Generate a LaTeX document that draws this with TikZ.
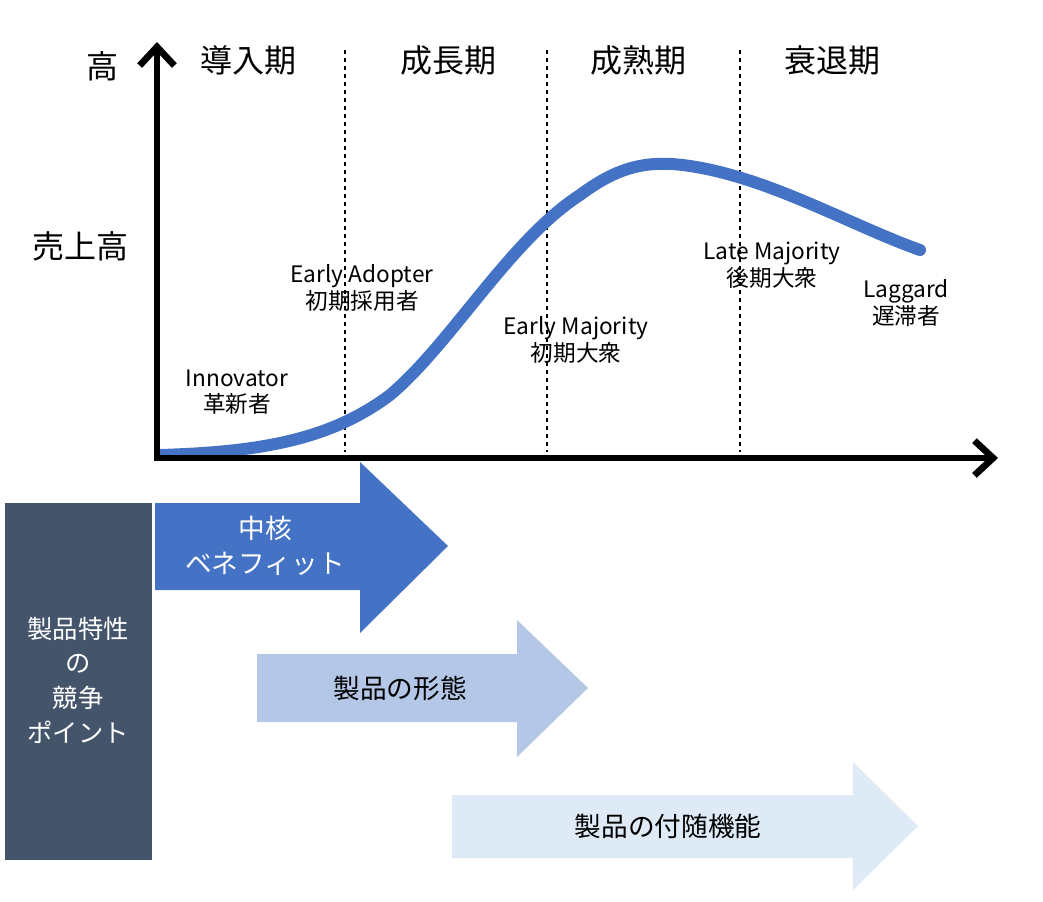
\documentclass[tikz,border=0pt]{standalone}
\usepackage{fontspec}
\setmainfont{Noto Sans CJK JP}
\usetikzlibrary{arrows.meta}
\definecolor{curveblue}{HTML}{4472C4}
\definecolor{midblue}{HTML}{B4C7E7}
\definecolor{paleblue}{HTML}{DEEBF7}
\definecolor{slate}{HTML}{44546A}
\tikzset{
  axis/.style={line width=5pt,-{Straight Barb[length=14pt,width=26pt,line width=5pt]}},
  phase/.style={font=\fontsize{24}{28}\selectfont},
  adopter/.style={font=\fontsize{17}{20}\selectfont,align=center},
  arrtext/.style={font=\fontsize{20}{26}\selectfont,align=center},
}
\begin{document}
\begin{tikzpicture}[x=0.75pt,y=-0.75pt]
\useasboundingbox (0,0) rectangle (1043,901);
% phase separators
\foreach \xx in {345,547,740}
  \draw[dashed,line width=1pt] (\xx,50) -- (\xx,452);
% sales curve
\draw[curveblue,line width=9pt,line cap=round]
  (160,455) .. controls (260,452) and (330,440) .. (390,395)
  .. controls (450,345) and (510,240) .. (580,195)
  .. controls (620,165) and (650,160) .. (690,166)
  .. controls (770,178) and (850,225) .. (920,250);
% axes
\coordinate (O) at (157,458);
\draw[axis] (O) -- (157,42);
\draw[axis] (154,458) -- (998,458);
\node[phase] (high) at (102,66) {高};
\node[phase] (sales) at (80,246) {売上高};
\node[phase] (p1) at (248,60) {導入期};
\node[phase] (p2) at (448,60) {成長期};
\node[phase] (p3) at (638,60) {成熟期};
\node[phase] (p4) at (832,60) {衰退期};
\node[adopter] (inno) at (237,392) {Innovator\\革新者};
\node[adopter] (early) at (362,288) {Early Adopter\\初期採用者};
\node[adopter] (emaj) at (576,340) {Early Majority\\初期大衆};
\node[adopter] (lmaj) at (772,265) {Late Majority\\後期大衆};
\node[adopter] (lag) at (906,303) {Laggard\\遅滞者};
% competition box
\fill[slate] (5,503) rectangle (152,860);
\node[arrtext,text=white,font=\fontsize{19}{26}\selectfont] (point) at (78,680) {製品特性\\の\\競争\\ポイント};
% product arrows
\fill[curveblue] (155,503) -- (360,503) -- (360,462) -- (448,546) -- (360,633) -- (360,590) -- (155,590) -- cycle;
\node[arrtext,text=white] (core) at (265,546) {中核\\ベネフィット};
\fill[midblue] (257,654) -- (517,654) -- (517,620) -- (588,688) -- (517,757) -- (517,722) -- (257,722) -- cycle;
\node[arrtext] (form) at (400,688) {製品の形態};
\fill[paleblue] (452,795) -- (853,795) -- (853,762) -- (918,826) -- (853,890) -- (853,858) -- (452,858) -- cycle;
\node[arrtext] (extra) at (668,826) {製品の付随機能};
\end{tikzpicture}
\end{document}
